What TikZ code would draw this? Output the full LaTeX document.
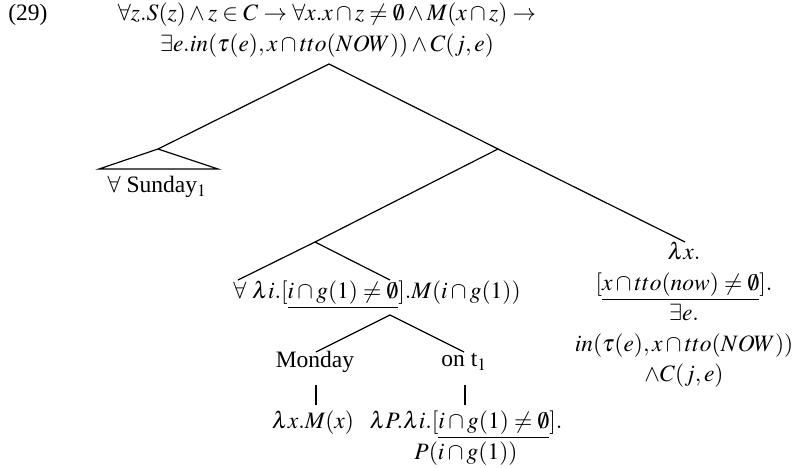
\documentclass[tikz,border=0pt]{standalone}
\usepackage{mathptmx}
\usepackage[no-math]{fontspec}
\setmainfont{Liberation Serif}
\begin{document}
\begin{tikzpicture}[x=1pt,y=-1pt,
  lbl/.style={inner sep=0pt,align=center,font=\fontsize{23.5}{30.5}\selectfont},
  br/.style={line width=1.2pt}]
\useasboundingbox (0,0) rectangle (796,468);
% labels
\node[lbl] (num) at (28,15) {(29)};
\node[lbl] (root) at (327,30) {$\forall z.S(z)\wedge z\in C\rightarrow\forall x.x\cap z\neq\emptyset\wedge M(x\cap z)\rightarrow$\\
 $\exists e.in(\tau(e),x\cap tto(NOW))\wedge C(j,e)$};
\node[lbl] (sun) at (157,187) {$\forall$ Sunday$_1$};
\node[lbl] (quant) at (377,295) {$\forall\ \lambda i.[\underline{i\cap g(1)\neq\emptyset}].M(i\cap g(1))$};
\node[lbl] (mon) at (315,362) {Monday};
\node[lbl] (on) at (464,362) {on t$_1$};
\node[lbl] (monsem) at (313,423) {$\lambda x.M(x)$};
\node[lbl] (onsem) at (466,438) {$\lambda P.\lambda i.[\underline{i\cap g(1)\neq\emptyset}].$\\ $P(i\cap g(1))$};
\node[lbl] (vp) at (684,315) {$\lambda x.$\\ $[\underline{x\cap tto(now)\neq\emptyset}].$\\ $\exists e.$\\ $in(\tau(e),x\cap tto(NOW))$\\ $\wedge C(j,e)$};
% branch points
\coordinate (r) at (329,64);
\coordinate (s) at (158,149);
\coordinate (sl) at (99,169);
\coordinate (sr) at (218,169);
\coordinate (n1) at (498,149);
\coordinate (vpt) at (685,242);
\coordinate (n2) at (315,242);
\coordinate (ql) at (238,280);
\coordinate (qr) at (390,280);
\coordinate (n3) at (390,315);
\coordinate (mt) at (316,352);
\coordinate (ot) at (464,352);
\coordinate (mb1) at (316,385);
\coordinate (mb2) at (316,405);
\coordinate (ob1) at (465,385);
\coordinate (ob2) at (465,405);
% branches
\draw[br] (s) -- (r) -- (n1);
\draw[br] (sl) -- (s) -- (sr) -- cycle;
\draw[br] (n2) -- (n1) -- (vpt);
\draw[br] (ql) -- (n2) -- (qr);
\draw[br] (mt) -- (n3) -- (ot);
\draw[br] (mb1) -- (mb2);
\draw[br] (ob1) -- (ob2);
\end{tikzpicture}
\end{document}
